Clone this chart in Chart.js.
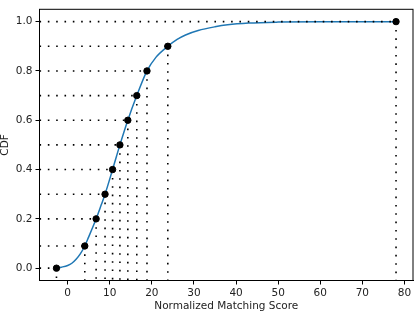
<!DOCTYPE html>
<html>
<head>
<meta charset="utf-8">
<script src="https://cdn.jsdelivr.net/npm/chart.js@4"></script>
<style>
  html, body { margin: 0; padding: 0; background: #fff; }
  #cdfChart { display: block; }
</style>
</head>
<body>
<canvas id="cdfChart" width="418" height="314"></canvas>
<script>
// CDF levels marked with dots, and the score at which each is reached
const cdfLevels = [0.0, 0.09, 0.2, 0.3, 0.4, 0.5, 0.6, 0.7, 0.8, 0.9, 1.0];
const cdfScores = [-2.66, 4.07, 6.76, 8.88, 10.67, 12.41, 14.29, 16.42, 18.84, 23.79, 78.0];

// smooth CDF curve
const curveScores = [-2.66, -1.5, 0, 1, 2, 3, 4.07, 5, 6, 6.76, 8, 8.88, 10.67, 12.41, 14.29, 16.42, 18.84, 21, 23.79, 26, 28, 31, 35, 38, 43, 50, 60, 78.0];
const curveValues = [0.0, 0.004, 0.011, 0.02, 0.036, 0.058, 0.09, 0.127, 0.168, 0.2, 0.258, 0.3, 0.4, 0.5, 0.6, 0.7, 0.8, 0.856, 0.9, 0.928, 0.946, 0.964, 0.979, 0.987, 0.994, 0.998, 1.0, 1.0];

// axis ticks and limits
const xTicks = [0, 10, 20, 30, 40, 50, 60, 70, 80];
const yTicks = [0.0, 0.2, 0.4, 0.6, 0.8, 1.0];
const xMin = -6.69, xMax = 82.03;
const yMin = -0.05, yMax = 1.05;

const FONT = { family: 'DejaVu Sans', size: 10.5 };

// dotted guide lines: left edge -> point, point -> bottom edge
const guideSets = [];
cdfLevels.forEach((lvl, i) => {
    const s = cdfScores[i];
    guideSets.push({
        type: 'line',
        data: [{ x: xMin, y: lvl }, { x: s, y: lvl }]
    });
    guideSets.push({
        type: 'line',
        data: [{ x: s, y: lvl }, { x: s, y: yMin }]
    });
});
guideSets.forEach(ds => {
    ds.borderColor = '#000';
    ds.borderWidth = 1.6;
    ds.borderDash = [1.6, 6.73];
    ds.pointRadius = 0;
    ds.fill = false;
    ds.order = 1;
});

const frame = {
    id: 'frame',
    afterDraw(chart) {
        const { ctx, chartArea: a } = chart;
        ctx.save();
        ctx.strokeStyle = '#000';
        ctx.lineWidth = 1;
        ctx.strokeRect(a.left, a.top, a.right - a.left, a.bottom - a.top);
        ctx.restore();
    }
};

new Chart(document.getElementById('cdfChart'), {
    type: 'line',
    data: {
        datasets: [
            {
                type: 'scatter',
                data: cdfScores.map((s, i) => ({ x: s, y: cdfLevels[i] })),
                backgroundColor: '#000',
                borderColor: '#000',
                pointRadius: 3.2,
                order: 0
            },
            ...guideSets,
            {
                type: 'line',
                data: curveScores.map((s, i) => ({ x: s, y: curveValues[i] })),
                borderColor: '#1f77b4',
                borderWidth: 1.5,
                pointRadius: 0,
                cubicInterpolationMode: 'monotone',
                fill: false,
                order: 2
            }
        ]
    },
    options: {
        responsive: false,
        animation: false,
        devicePixelRatio: 1,
        layout: { padding: { left: 0, right: 1.5, top: 0.5, bottom: 0 } },
        plugins: { legend: { display: false }, tooltip: { enabled: false } },
        scales: {
            x: {
                type: 'linear',
                min: xMin,
                max: xMax,
                afterBuildTicks: scale => { scale.ticks = xTicks.map(v => ({ value: v })); },
                afterFit: scale => { scale.height = 33.5; },
                grid: { drawOnChartArea: false, drawTicks: true, tickLength: 4, color: '#000' },
                border: { display: true, color: '#000', width: 1 },
                ticks: { color: '#222', font: FONT, padding: 2, maxRotation: 0 },
                title: {
                    display: true,
                    text: 'Normalized Matching Score',
                    color: '#222',
                    font: { ...FONT, lineHeight: 1.2 },
                    padding: { top: 0, bottom: 1.5 }
                }
            },
            y: {
                type: 'linear',
                min: yMin,
                max: yMax,
                afterBuildTicks: scale => { scale.ticks = yTicks.map(v => ({ value: v })); },
                afterFit: scale => { scale.width = 39.5; },
                grid: { drawOnChartArea: false, drawTicks: true, tickLength: 4, color: '#000' },
                border: { display: true, color: '#000', width: 1 },
                ticks: {
                    color: '#222',
                    font: FONT,
                    padding: 3,
                    callback: v => Number(v).toFixed(1)
                },
                title: {
                    display: true,
                    text: 'CDF',
                    color: '#222',
                    font: { ...FONT, lineHeight: 1.0 },
                    padding: { top: 0, bottom: 0 }
                }
            }
        }
    },
    plugins: [frame]
});
</script>
</body>
</html>
